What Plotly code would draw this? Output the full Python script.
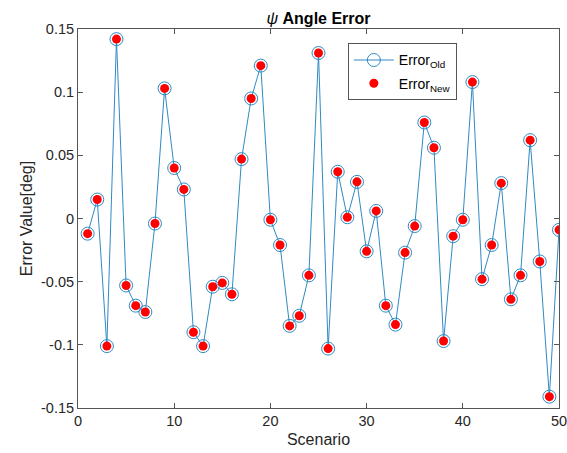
import plotly.graph_objects as go

scenario = list(range(1, 51))
error_old = [-0.012, 0.015, -0.101, 0.142, -0.053, -0.069, -0.074, -0.004, 0.103, 0.040,
             0.023, -0.090, -0.101, -0.054, -0.051, -0.060, 0.047, 0.095, 0.121, -0.001,
             -0.021, -0.085, -0.077, -0.045, 0.131, -0.103, 0.037, 0.001, 0.029, -0.026,
             0.006, -0.069, -0.084, -0.027, -0.006, 0.076, 0.056, -0.097, -0.014, -0.001,
             0.108, -0.048, -0.021, 0.028, -0.064, -0.045, 0.062, -0.034, -0.141, -0.009]
error_new = list(error_old)

x_ticks = [0, 10, 20, 30, 40, 50]
y_ticks = [-0.15, -0.1, -0.05, 0, 0.05, 0.1, 0.15]
y_ticktext = ["-0.15", "-0.1", "-0.05", "0", "0.05", "0.1", "0.15"]

blue = "#2f8ac4"
axcol = "#262626"
linecol = "#555555"

fig = go.Figure()
fig.add_trace(go.Scatter(
    x=scenario, y=error_old, mode="lines+markers", name="Error<sub>Old</sub>",
    legendgroup="a",
    line=dict(color=blue, width=1),
    marker=dict(symbol="circle-open", size=13, color=blue, line=dict(width=1, color=blue)),
))
fig.add_trace(go.Scatter(
    x=scenario, y=error_new, mode="markers", name="Error<sub>New</sub>",
    legendgroup="b",
    marker=dict(symbol="circle", size=9, color="#ff0000", line=dict(width=0)),
))

font = "Liberation Sans, Arial, sans-serif"
axis_common = dict(
    showgrid=False, zeroline=False, showline=True, linecolor=linecol, linewidth=1,
    mirror="ticks", ticks="inside", ticklen=5, tickcolor=linecol,
    tickfont=dict(family=font, size=14.5, color=axcol),
    ticklabeloverflow="allow", automargin=False,
)
fig.update_layout(
    width=567, height=453,
    margin=dict(l=78, r=8, t=29, b=45),
    paper_bgcolor="white", plot_bgcolor="white",
    title=dict(text="<i>ψ</i> <b>Angle Error</b>", xref="paper", x=0.5, xanchor="center",
               y=1 - 18 / 453, yanchor="middle",
               font=dict(family=font, size=16, color="black")),
    xaxis=dict(range=[0, 50], tickvals=x_ticks,
               title=dict(text="Scenario", font=dict(family=font, size=16, color=axcol), standoff=5),
               **axis_common),
    yaxis=dict(range=[-0.15, 0.15], tickvals=y_ticks, ticktext=y_ticktext,
               title=dict(text="Error Value[deg]", font=dict(family=font, size=16, color=axcol), standoff=4),
               **axis_common),
    legend=dict(x=0.561, y=0.962, xanchor="left", yanchor="top",
                bgcolor="white", bordercolor=linecol, borderwidth=1,
                font=dict(family=font, size=14, color="black"),
                itemwidth=40, tracegroupgap=2),
    showlegend=True,
)
fig.write_html("out.html")
